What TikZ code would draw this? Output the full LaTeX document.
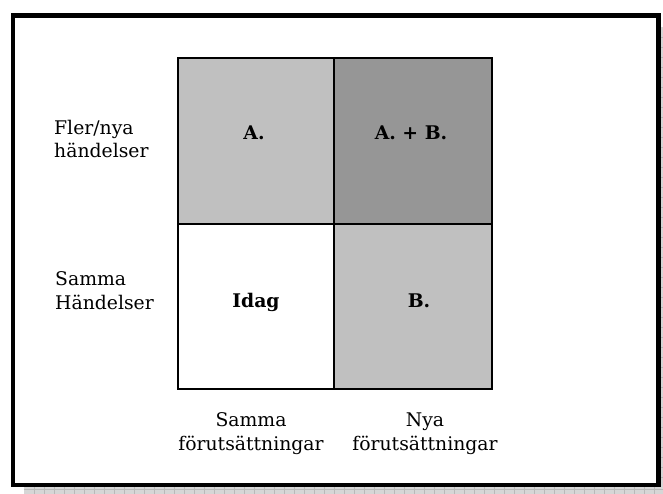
\documentclass[tikz,border=0pt]{standalone}
\usepackage{fontspec}
\setmainfont{DejaVu Serif}
\begin{document}
\begin{tikzpicture}[x=1pt,y=-1pt,
  cell/.style={draw=black,line width=2.4pt},
  lbl/.style={inner sep=0pt,font=\fontsize{18.8}{23.5}\selectfont},
  blbl/.style={inner sep=0pt,font=\fontsize{18.8}{23}\selectfont\bfseries}]
\useasboundingbox (0,0) rectangle (663,494);
% shadow
\fill[gray!32] (24,484) rectangle (663,494);
\fill[gray!32] (658,27) rectangle (663,484);
\foreach \xx in {34,44,...,654} \draw[gray!55,line width=0.8pt] (\xx,484) -- (\xx,494);
\foreach \yy in {37,47,...,484} \draw[gray!55,line width=0.8pt] (658,\yy) -- (663,\yy);
\draw[gray!55,line width=0.8pt] (24,489) -- (663,489);
% frame
\node[draw=black,line width=4.6pt,fill=white,minimum width=645.5pt,minimum height=469.5pt,inner sep=0pt,anchor=north west] (frame) at (10.5,13) {};
% grid cells
\node[cell,fill={rgb,255:red,192;green,192;blue,192},minimum width=156pt,minimum height=166pt,anchor=north west,inner sep=0pt] (a) at (177,57) {};
\node[cell,fill={rgb,255:red,150;green,150;blue,150},minimum width=158pt,minimum height=166pt,anchor=north west,inner sep=0pt] (ab) at (333,57) {};
\node[cell,fill=white,minimum width=156pt,minimum height=165pt,anchor=north west,inner sep=0pt] (idag) at (177,223) {};
\node[cell,fill={rgb,255:red,192;green,192;blue,192},minimum width=158pt,minimum height=165pt,anchor=north west,inner sep=0pt] (b) at (333,223) {};
% cell labels
\node[blbl,anchor=base] (ta) at (254,140) {A.};
\node[blbl,anchor=base] (tab) at (411,140) {A. + B.};
\node[blbl,anchor=base] (tidag) at (256,307) {Idag};
\node[blbl,anchor=base] (tb) at (419,307) {B.};
% axis labels (base anchor = baseline of last line)
\node[lbl,align=left,anchor=base west] (fler) at (54,158) {Fler/nya\\händelser};
\node[lbl,align=left,anchor=base west] (samma) at (55,309) {Samma\\Händelser};
\node[lbl,align=center,anchor=base] (sf) at (251,450) {Samma\\förutsättningar};
\node[lbl,align=center,anchor=base] (nf) at (425,450) {Nya\\förutsättningar};
\end{tikzpicture}
\end{document}
